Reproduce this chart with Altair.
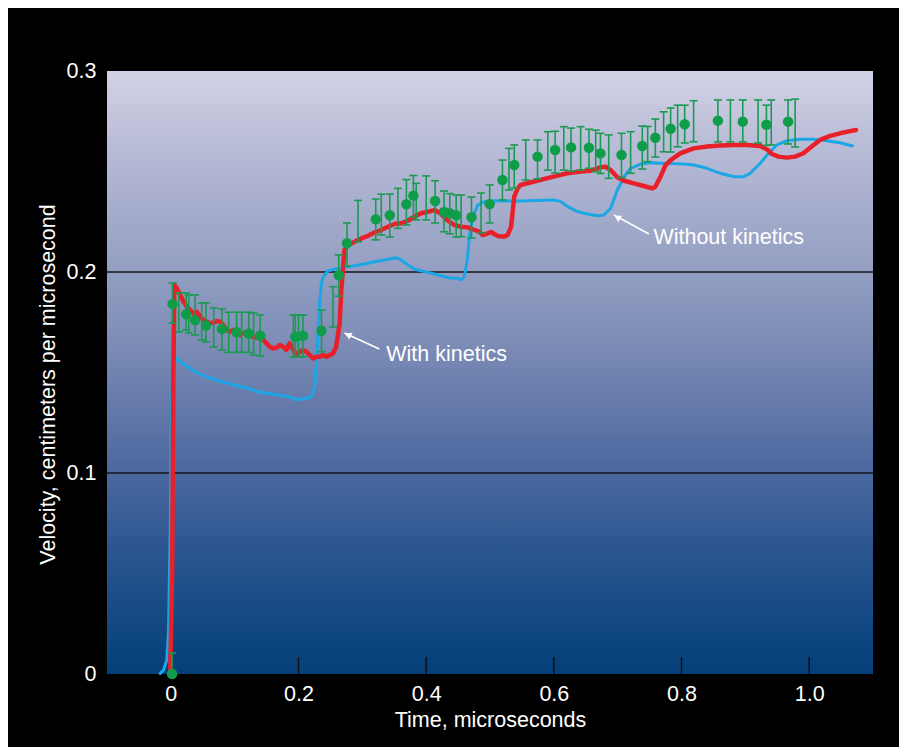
import altair as alt
import pandas as pd

# ---------------- data ----------------
red_t = [-0.001, 0.002, 0.004, 0.0055, 0.0094, 0.0146, 0.0198, 0.025, 0.0302, 0.0354, 0.0406,
         0.0458, 0.051, 0.0563, 0.0614, 0.0667, 0.0719, 0.077, 0.0823, 0.0875, 0.0927, 0.098,
         0.103, 0.108, 0.1136, 0.119, 0.124, 0.129, 0.137, 0.145, 0.150, 0.155, 0.160, 0.1656,
         0.171, 0.176, 0.181, 0.186, 0.192, 0.197, 0.202, 0.207, 0.2125, 0.2177, 0.223, 0.228,
         0.233, 0.2386, 0.244, 0.249, 0.254, 0.259, 0.2645, 0.267, 0.272, 0.2777, 0.288, 0.2984,
         0.309, 0.319, 0.3297, 0.340, 0.3505, 0.361, 0.3714, 0.3817, 0.392, 0.4026, 0.413, 0.418,
         0.4234, 0.4286, 0.434, 0.444, 0.4547, 0.465, 0.4755, 0.483, 0.4886, 0.4964, 0.5016,
         0.5067, 0.512, 0.517, 0.5223, 0.5277, 0.533, 0.538, 0.5433, 0.548, 0.569, 0.595, 0.621,
         0.642, 0.658, 0.673, 0.681, 0.689, 0.6995, 0.71, 0.7255, 0.741, 0.754, 0.759, 0.767,
         0.775, 0.783, 0.798, 0.819, 0.840, 0.861, 0.882, 0.9026, 0.9234, 0.934, 0.9417, 0.952,
         0.965, 0.978, 0.991, 1.004, 1.017, 1.033, 1.0484, 1.064, 1.0734]
red_v = [0.0, 0.05, 0.15, 0.1935, 0.1919, 0.1886, 0.1852, 0.1827, 0.1811, 0.1794, 0.1802,
         0.1778, 0.1761, 0.1753, 0.1745, 0.1748, 0.1756, 0.1753, 0.1736, 0.1711, 0.1703, 0.1711,
         0.1703, 0.1687, 0.1695, 0.1703, 0.1687, 0.1678, 0.167, 0.1662, 0.1645, 0.1628, 0.162, 0.1623,
         0.1637, 0.1628, 0.1612, 0.1645, 0.1612, 0.1587, 0.1603, 0.1612, 0.1603, 0.1587, 0.157, 0.1578,
         0.1578, 0.1587, 0.1578, 0.1587, 0.1595, 0.1628, 0.1745, 0.191, 0.211, 0.2134, 0.215, 0.2167,
         0.218, 0.2196, 0.2209, 0.2225, 0.2239, 0.2242, 0.2255, 0.2275, 0.2292, 0.23, 0.2308, 0.23,
         0.2289, 0.2272, 0.2255, 0.2234, 0.2225, 0.2222, 0.2209, 0.2201, 0.2184, 0.2192, 0.2199,
         0.2189, 0.218, 0.2176, 0.2176, 0.2184, 0.2225, 0.2375, 0.2416, 0.2433, 0.245, 0.2471, 0.2491,
         0.25, 0.2504, 0.2521, 0.2524, 0.2507, 0.2471, 0.2454, 0.2441, 0.2428, 0.2416, 0.2424, 0.2474,
         0.2532, 0.2557, 0.259, 0.2615, 0.2624, 0.2629, 0.2632, 0.2632, 0.2627, 0.261, 0.2587, 0.2574,
         0.2569, 0.2574, 0.2591, 0.2624, 0.2657, 0.2677, 0.269, 0.2701, 0.2706]

blue_t = [-0.0167, -0.0114, -0.0063, -0.0036, -0.001, 0.0005, 0.0027, 0.0067, 0.0083, 0.0172,
          0.0277, 0.038, 0.0484, 0.0589, 0.0692, 0.0797, 0.090, 0.1058, 0.1214, 0.137, 0.1527,
          0.168, 0.184, 0.1917, 0.1995, 0.2073, 0.2152, 0.2203, 0.2255, 0.228, 0.2308, 0.2333,
          0.236, 0.2386, 0.2464, 0.2567, 0.2723, 0.288, 0.3036, 0.3192, 0.3348, 0.353, 0.361,
          0.3714, 0.3817, 0.3973, 0.413, 0.4286, 0.439, 0.4495, 0.4547, 0.46, 0.465, 0.4677,
          0.473, 0.4808, 0.491, 0.5067, 0.5277, 0.5484, 0.6005, 0.611, 0.6214, 0.637, 0.6527,
          0.668, 0.6786, 0.689, 0.6995, 0.71, 0.7203, 0.736, 0.7516, 0.7776, 0.8036, 0.819, 0.840,
          0.861, 0.882, 0.897, 0.9078, 0.9234, 0.9364, 0.9495, 0.965, 0.9859, 1.0067, 1.0276,
          1.0484, 1.068]
blue_v = [0.0003, 0.002, 0.007, 0.0219, 0.0716, 0.1214, 0.1463, 0.1562, 0.1572, 0.1549,
          0.1526, 0.1504, 0.1488, 0.1476, 0.1466, 0.1454, 0.1446, 0.1433, 0.1421, 0.1404, 0.1396,
          0.1388, 0.138, 0.1372, 0.1363, 0.1372, 0.1372, 0.138, 0.143, 0.1546, 0.1711, 0.1861,
          0.1944, 0.1975, 0.2006, 0.2015, 0.2023, 0.2031, 0.204, 0.2051, 0.206, 0.2071, 0.206,
          0.2035, 0.2014, 0.2002, 0.199, 0.1977, 0.1969, 0.1969, 0.196, 0.1977, 0.2076, 0.2176,
          0.2275, 0.2333, 0.235, 0.2355, 0.2353, 0.2353, 0.2358, 0.235, 0.2325, 0.230, 0.2289,
          0.228, 0.2284, 0.2317, 0.2408, 0.2474, 0.2516, 0.2537, 0.2544, 0.254, 0.2537, 0.2532, 0.2516,
          0.2491, 0.2474, 0.2474, 0.2491, 0.2541, 0.2591, 0.2632, 0.2653, 0.266, 0.266, 0.2653,
          0.2643, 0.2627]

# measured points with their error bars
pt_t = [0.002, 0.0027, 0.024, 0.038, 0.055, 0.080, 0.103, 0.122, 0.140, 0.195, 0.207, 0.236,
        0.263, 0.276, 0.321, 0.343, 0.369, 0.380, 0.414, 0.428, 0.437, 0.447, 0.471, 0.4995,
        0.5195, 0.538, 0.5745, 0.602, 0.627, 0.655, 0.673, 0.706, 0.7386, 0.759, 0.783, 0.805,
        0.857, 0.896, 0.933, 0.967]
pt_v = [0.0, 0.184, 0.179, 0.176, 0.1734, 0.1716, 0.170, 0.1694, 0.1683, 0.1678, 0.1683, 0.1708,
        0.1984, 0.2143, 0.2262, 0.2282, 0.2337, 0.238, 0.2353, 0.2299, 0.2292, 0.2282, 0.2272,
        0.2338, 0.2458, 0.2532, 0.2574, 0.2607, 0.262, 0.2618, 0.259, 0.2582, 0.2627, 0.2668,
        0.2713, 0.2735, 0.2753, 0.2748, 0.2733, 0.2748]
pt_hi = [0.0104, 0.1945, 0.1896, 0.1886, 0.1846, 0.1816, 0.180, 0.180, 0.1786, 0.1786, 0.1786,
         0.1811, 0.2085, 0.2244, 0.2363, 0.2388, 0.246, 0.248, 0.2454, 0.2403, 0.239, 0.2383,
         0.2373, 0.2433, 0.2557, 0.2632, 0.2657, 0.270, 0.2716, 0.271, 0.269, 0.269, 0.2726,
         0.2761, 0.2816, 0.283, 0.2856, 0.2856, 0.283, 0.2856]
pt_lo = [0.0, 0.1746, 0.1711, 0.1687, 0.1652, 0.1612, 0.160, 0.160, 0.1582, 0.1577, 0.1577,
         0.1603, 0.188, 0.203, 0.216, 0.2174, 0.2234, 0.2274, 0.2244, 0.22, 0.219, 0.2174, 0.2169,
         0.2244, 0.2358, 0.2418, 0.2463, 0.2493, 0.2502, 0.2516, 0.249, 0.247, 0.2512, 0.2572,
         0.2597, 0.2642, 0.2647, 0.2647, 0.263, 0.2637]

# error bars drawn without a point
bar_t = [0.0125, 0.028, 0.0484, 0.0672, 0.0906, 0.111, 0.1297, 0.192, 0.200, 0.254, 0.2933,
         0.3297, 0.3558, 0.3844, 0.400, 0.4547, 0.486, 0.5297, 0.556, 0.5906, 0.6156, 0.642,
         0.6656, 0.686, 0.7203, 0.747, 0.772, 0.794, 0.819, 0.8766, 0.920, 0.9406, 0.978]
bar_hi = [0.1896, 0.1886, 0.1846, 0.1821, 0.180, 0.180, 0.1796, 0.1786, 0.1786, 0.1927, 0.2356,
          0.2387, 0.2416, 0.2441, 0.2478, 0.2383, 0.2393, 0.2615, 0.2657, 0.2698, 0.2723, 0.2723,
          0.2706, 0.2682, 0.2698, 0.2724, 0.2797, 0.283, 0.2852, 0.2856, 0.2856, 0.2856, 0.286]
bar_lo = [0.1701, 0.1697, 0.1662, 0.1627, 0.160, 0.160, 0.1587, 0.1577, 0.1577, 0.1726, 0.215,
          0.2184, 0.2217, 0.2259, 0.2259, 0.2176, 0.2194, 0.2408, 0.2458, 0.2507, 0.2507, 0.2507,
          0.2499, 0.2466, 0.2491, 0.2549, 0.2598, 0.2623, 0.2648, 0.2647, 0.2642, 0.2632, 0.2622]

x_ticks = [0, 0.2, 0.4, 0.6, 0.8, 1.0]
y_ticks = [0, 0.1, 0.2, 0.3]
grid_v = [0.1, 0.2]

ann_text = ["With kinetics", "Without kinetics"]
ann_x = [0.3375, 0.756]
ann_y = [0.1587, 0.2169]
arrow_x1 = [0.3266, 0.749]
arrow_y1 = [0.1617, 0.2189]
arrow_x2 = [0.272, 0.694]
arrow_y2 = [0.1697, 0.2284]
head_x = [0.2775, 0.6995]
head_y = [0.1688, 0.2272]
head_angle = [294.6, 299.7]

# ---------------- chart ----------------
W, H = 766, 603
FONT = "Liberation Sans"
FS = 21.5
GREEN = "#0f9d4a"
BAR_GREEN = "#1b9a52"
RED = "#e8202a"
BLUE = "#1ba6e6"

xs = alt.Scale(domain=[-0.1, 1.1], nice=False, zero=False)
ys = alt.Scale(domain=[0, 0.3], nice=False, zero=False)

x_axis = alt.Axis(values=x_ticks, title="Time, microseconds",
                  labelExpr="datum.value == 0 ? '0' : format(datum.value, '.1f')",
                  ticks=False, domain=False, grid=False, labelPadding=9,
                  labelFont=FONT, labelFontSize=FS, labelColor="white",
                  titleFont=FONT, titleFontSize=FS, titleColor="white", titleFontWeight="normal",
                  titleY=52, titleBaseline="alphabetic")
y_axis = alt.Axis(values=y_ticks, title="Velocity, centimeters per microsecond",
                  labelExpr="datum.value == 0 ? '0' : format(datum.value, '.1f')",
                  ticks=False, domain=False, grid=False, labelPadding=11,
                  labelFont=FONT, labelFontSize=FS, labelColor="white",
                  titleFont=FONT, titleFontSize=FS, titleColor="white", titleFontWeight="normal",
                  titleAngle=270, titleX=-53, titleY=313, titleAlign="center",
                  titleBaseline="alphabetic")


def X(f):
    return alt.X(f, type="quantitative", scale=xs, axis=x_axis)


def Y(f):
    return alt.Y(f, type="quantitative", scale=ys, axis=y_axis)


gradient = alt.LinearGradient(
    gradient="linear", x1=0, x2=0, y1=0, y2=1,
    stops=[alt.GradientStop(color="#d2d2e6", offset=0),
           alt.GradientStop(color="#b8bbd6", offset=0.13),
           alt.GradientStop(color="#8190b8", offset=0.43),
           alt.GradientStop(color="#5a72a6", offset=0.6),
           alt.GradientStop(color="#2c5690", offset=0.79),
           alt.GradientStop(color="#0a447f", offset=0.96),
           alt.GradientStop(color="#043f7a", offset=1)])

bg = alt.Chart(pd.DataFrame({"k": [0]})).mark_rect(color=gradient).encode(
    x=alt.value(0), x2=alt.value(W), y=alt.value(0), y2=alt.value(H))

grid = alt.Chart(pd.DataFrame({"v": grid_v})).mark_rule(color="#15151f", strokeWidth=1.5).encode(
    y=Y("v"), x=alt.value(0), x2=alt.value(W))

ticks = alt.Chart(pd.DataFrame({"t": x_ticks})).mark_rule(color="#101010", strokeWidth=1.5).encode(
    x=X("t"), y=alt.value(H), y2=alt.value(H - 17))

red_df = pd.DataFrame({"t": red_t, "v": red_v})
blue_df = pd.DataFrame({"t": blue_t, "v": blue_v})

blue = alt.Chart(blue_df).mark_line(color=BLUE, strokeWidth=3, strokeJoin="round",
                                    strokeCap="round").encode(x=X("t"), y=Y("v"), order="t:Q")
red = alt.Chart(red_df).mark_line(color=RED, strokeWidth=4.5, strokeJoin="round",
                                  strokeCap="round").encode(x=X("t"), y=Y("v"), order="t:Q")

bars_df = pd.DataFrame({"t": pt_t + bar_t, "lo": pt_lo + bar_lo, "hi": pt_hi + bar_hi})
ebar = alt.Chart(bars_df).mark_rule(color=BAR_GREEN, strokeWidth=1.6).encode(
    x=X("t"), y=Y("lo"), y2="hi")
cap_hi = alt.Chart(bars_df).mark_rule(color=BAR_GREEN, strokeWidth=1.6, xOffset=-4, x2Offset=4).encode(
    x=X("t"), x2="t", y=Y("hi"))
cap_lo = alt.Chart(bars_df).mark_rule(color=BAR_GREEN, strokeWidth=1.6, xOffset=-4, x2Offset=4).encode(
    x=X("t"), x2="t", y=Y("lo"))

pts = alt.Chart(pd.DataFrame({"t": pt_t, "v": pt_v})).mark_circle(
    color=GREEN, opacity=1, size=110).encode(x=X("t"), y=Y("v"))

arr_df = pd.DataFrame({"x1": arrow_x1, "y1": arrow_y1, "x2": arrow_x2, "y2": arrow_y2,
                       "hx": head_x, "hy": head_y, "ang": head_angle})
arrows = alt.Chart(arr_df).mark_rule(color="white", strokeWidth=1.6).encode(
    x=X("x1"), y=Y("y1"), x2="x2", y2="y2")
heads = alt.Chart(arr_df).mark_point(shape="triangle-up", filled=True, color="white",
                                     opacity=1, size=55).encode(
    x=X("hx"), y=Y("hy"), angle=alt.Angle("ang:Q", scale=None))

labels = alt.Chart(pd.DataFrame({"x": ann_x, "y": ann_y, "txt": ann_text})).mark_text(
    color="white", font=FONT, fontSize=FS, align="left", baseline="middle").encode(
    x=X("x"), y=Y("y"), text="txt:N")

chart = alt.layer(bg, grid, ticks, blue, red, ebar, cap_hi, cap_lo, pts, arrows, heads, labels).properties(
    width=W, height=H,
    padding={"left": 99, "top": 63, "right": 26, "bottom": 73},
    autosize="none",
    background="black",
).configure_view(strokeWidth=0)

chart.save("out.html", embed_options={"renderer": "svg", "actions": False})
